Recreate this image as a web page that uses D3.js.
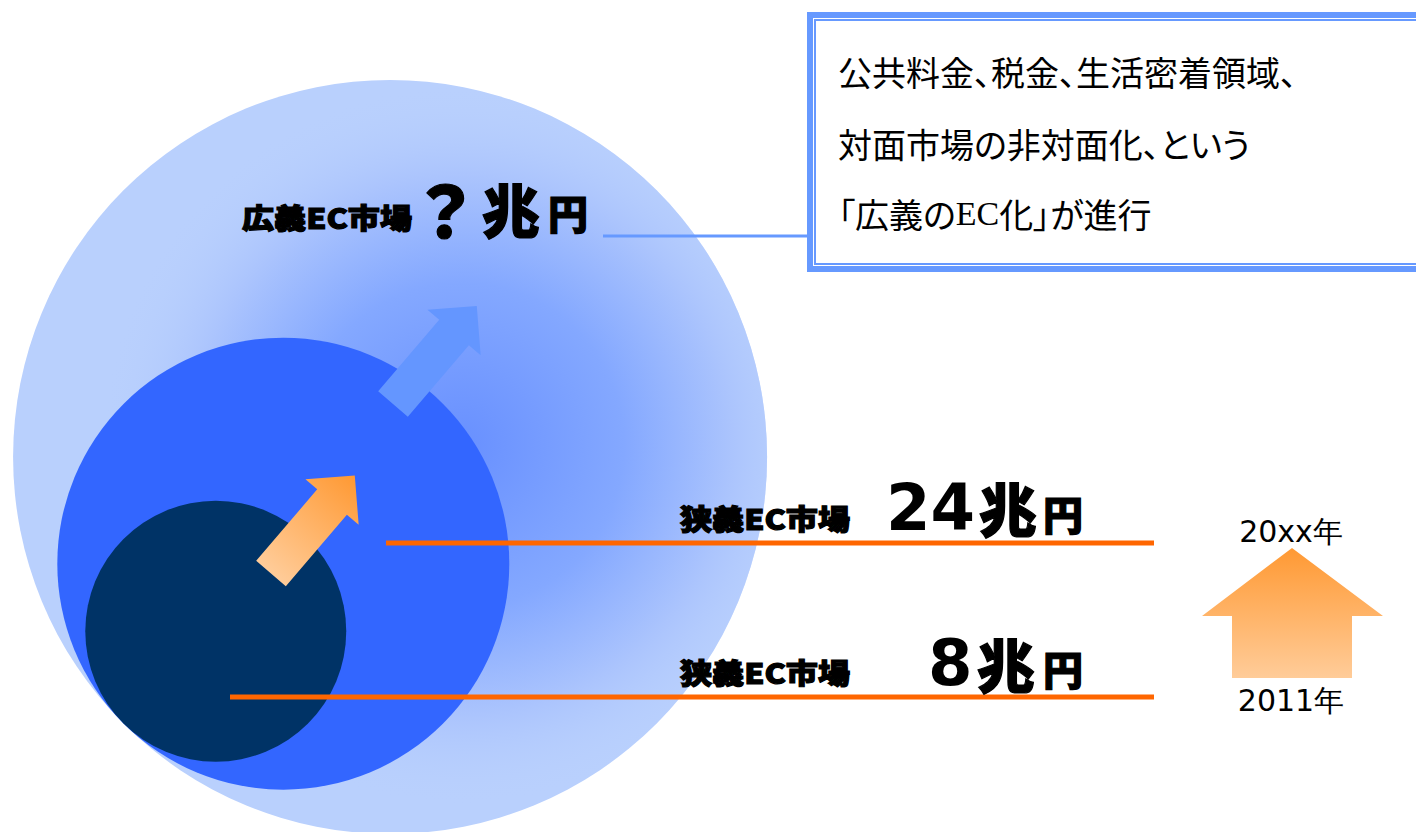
<!DOCTYPE html>
<html lang="ja">
<head>
<meta charset="utf-8">
<script src="https://cdn.jsdelivr.net/npm/d3@7"></script>
<style>
  html, body { margin: 0; padding: 0; background: #ffffff; }
  svg { display: block; }
  .heavy { font-family: "Noto Sans CJK JP", "Noto Sans", sans-serif; font-weight: 900; fill: #000; stroke: #000; stroke-width: 1.2px; paint-order: stroke; }
  .num { font-family: "DejaVu Sans", Verdana, sans-serif; font-weight: bold; fill: #000; }
  .note { font-family: "Noto Sans CJK JP", sans-serif; font-size: 34px; fill: #000; font-feature-settings: "palt"; }
  .year { font-family: "DejaVu Sans", Verdana, sans-serif; font-size: 30px; fill: #000; }
</style>
</head>
<body>
<svg id="chart" width="1416" height="832"></svg>
<script>
// Market labels, values (兆円) and the text shown for each value
const marketLabels = ["広義EC市場", "狭義EC市場", "狭義EC市場"];
const marketValues = [null, 24, 8];          // broad market size is unknown
const valueTexts   = ["？", "24", "8"];
const unitTexts    = ["兆", "兆", "兆"];
const yenTexts     = ["円", "円", "円"];
const yearLabels   = ["2011年", "20xx年"];
const noteLines    = [["公共料金、税金、生活密着領域、"], ["対面市場の非対面化、という"], ["「広義の", "EC", "化」が進行"]];

const W = 1416, H = 832;
const svg = d3.select("#chart");
const defs = svg.append("defs");

// Circles share a common tangent point at the lower left; known markets are sized by area
const tangent = { x: 123.5, y: 723.5 };
const diag = Math.SQRT1_2;
const rScale = d3.scaleSqrt().domain([0, 24]).range([0, 226]);
const broadRadius = 377;
const radii = marketValues.map(v => v == null ? broadRadius : rScale(v));
const centers = radii.map(r => ({ x: tangent.x + r * diag, y: tangent.y - r * diag }));
const circleFills = ["#b9d0fd", "#3366ff", "#003366"];

// Soft glow around the mid circle inside the broad circle
const glow = defs.append("radialGradient").attr("id", "glow")
  .attr("gradientUnits", "userSpaceOnUse")
  .attr("cx", 462).attr("cy", 445).attr("r", 360);
[[0, "#6890ff", 1], [0.45, "#84a8ff", 1], [0.75, "#abc4fd", 1], [1, "#b9d0fd", 0]]
  .forEach(([o, c, a]) => glow.append("stop").attr("offset", o).attr("stop-color", c).attr("stop-opacity", a));

svg.append("circle").attr("cx", centers[0].x).attr("cy", centers[0].y).attr("r", radii[0]).attr("fill", circleFills[0]);
svg.append("circle").attr("cx", centers[0].x).attr("cy", centers[0].y).attr("r", radii[0]).attr("fill", "url(#glow)");
svg.append("circle").attr("cx", centers[1].x).attr("cy", centers[1].y).attr("r", radii[1]).attr("fill", circleFills[1]);
svg.append("circle").attr("cx", centers[2].x).attr("cy", centers[2].y).attr("r", radii[2]).attr("fill", circleFills[2]);

// Growth arrows (block arrows with a right-angled head)
function arrowPath(len, w, h) {
  const hl = h;
  return d3.line()([[0, -w], [len - hl, -w], [len - hl, -h], [len, 0], [len - hl, h], [len - hl, w], [0, w]]) + "Z";
}
const orangeGrad = defs.append("linearGradient").attr("id", "orangeArrow")
  .attr("x1", 0).attr("y1", 0).attr("x2", 1).attr("y2", 0);
orangeGrad.append("stop").attr("offset", 0).attr("stop-color", "#ffcc99");
orangeGrad.append("stop").attr("offset", 1).attr("stop-color", "#ff9933");

const arrowAngle = -49.5;
svg.append("path").attr("d", arrowPath(129, 19.5, 35))
  .attr("transform", `translate(271,573.5) rotate(${arrowAngle})`)
  .attr("fill", "url(#orangeArrow)");
svg.append("path").attr("d", arrowPath(129, 19.5, 35))
  .attr("transform", `translate(393,404) rotate(${arrowAngle})`)
  .attr("fill", "#6496ff");

// Leader lines
svg.append("line").attr("x1", 603).attr("x2", 810).attr("y1", 236).attr("y2", 236)
  .attr("stroke", "#6699ff").attr("stroke-width", 3);
svg.append("line").attr("x1", 386).attr("x2", 1154).attr("y1", 543).attr("y2", 543)
  .attr("stroke", "#ff6600").attr("stroke-width", 5);
svg.append("line").attr("x1", 230).attr("x2", 1154).attr("y1", 697).attr("y2", 697)
  .attr("stroke", "#ff6600").attr("stroke-width", 5);

// Market labels with their values
const labelLayout = [
  { lx: 242, ly: 217, vx: 410, vy: 207, vSize: 70, vFont: "cjk", ux: 482, uy: 207.5, yx: 548, yy: 212 },
  { lx: 680, ly: 517.5, vx: 886, vy: 530, vSize: 64, vFont: "num", ux: 979, uy: 506.5, yx: 1043, yy: 513 },
  { lx: 680, ly: 672, vx: 928, vy: 685, vSize: 64, vFont: "num", ux: 977, uy: 662.5, yx: 1043, yy: 667.5 }
];
marketLabels.forEach((lab, i) => {
  const L = labelLayout[i];
  svg.append("text").attr("class", "heavy")
    .attr("x", L.lx).attr("y", L.ly).attr("dominant-baseline", "central")
    .attr("font-size", 28).attr("textLength", 170).attr("lengthAdjust", "spacingAndGlyphs")
    .text(lab);
  const v = svg.append("text").attr("x", L.vx).attr("y", L.vy).text(valueTexts[i]);
  if (L.vFont === "num") v.attr("class", "num").attr("font-size", L.vSize);
  else v.attr("class", "heavy").attr("font-size", L.vSize).attr("dominant-baseline", "central").attr("stroke-width", 2.5);
  svg.append("text").attr("class", "heavy")
    .attr("x", L.ux).attr("y", L.uy).attr("dominant-baseline", "central")
    .attr("font-size", 58).text(unitTexts[i]);
  svg.append("text").attr("class", "heavy")
    .attr("x", L.yx).attr("y", L.yy).attr("dominant-baseline", "central")
    .attr("font-size", 40).text(yenTexts[i]);
});

// Note box (double border, runs off the right edge)
const box = { x: 807, y: 12, w: 700, h: 260 };
svg.append("rect").attr("x", box.x).attr("y", box.y).attr("width", box.w).attr("height", box.h).attr("fill", "#6699ff");
svg.append("rect").attr("x", box.x + 6).attr("y", box.y + 6).attr("width", box.w - 12).attr("height", box.h - 12).attr("fill", "#ffffff");
svg.append("rect").attr("x", box.x + 8).attr("y", box.y + 8).attr("width", box.w - 16).attr("height", box.h - 16)
  .attr("fill", "#ffffff").attr("stroke", "#6699ff").attr("stroke-width", 2);

const noteY = [71, 143, 213];
noteLines.forEach((parts, i) => {
  const t = svg.append("text").attr("class", "note")
    .attr("x", 838).attr("y", noteY[i]).attr("dominant-baseline", "central");
  parts.forEach(part => {
    const ts = t.append("tspan").text(part);
    if (part === "EC") ts.attr("font-family", "'Liberation Serif', serif");
  });
});

// Year arrow (2011 → 20xx)
const yearGrad = defs.append("linearGradient").attr("id", "yearArrow")
  .attr("x1", 0).attr("y1", 0).attr("x2", 0).attr("y2", 1);
yearGrad.append("stop").attr("offset", 0).attr("stop-color", "#ff9933");
yearGrad.append("stop").attr("offset", 1).attr("stop-color", "#ffcc99");
const ya = { tipX: 1292, tipY: 548, headY: 616, headL: 1202, headR: 1383, shaftL: 1232, shaftR: 1352, baseY: 678 };
svg.append("path")
  .attr("d", d3.line()([[ya.tipX, ya.tipY], [ya.headR, ya.headY], [ya.shaftR, ya.headY], [ya.shaftR, ya.baseY],
    [ya.shaftL, ya.baseY], [ya.shaftL, ya.headY], [ya.headL, ya.headY]]) + "Z")
  .attr("fill", "url(#yearArrow)");
svg.append("text").attr("class", "year").attr("x", 1291).attr("y", 711).attr("text-anchor", "middle").text(yearLabels[0]);
svg.append("text").attr("class", "year").attr("x", 1291).attr("y", 542).attr("text-anchor", "middle").text(yearLabels[1]);
</script>
</body>
</html>
